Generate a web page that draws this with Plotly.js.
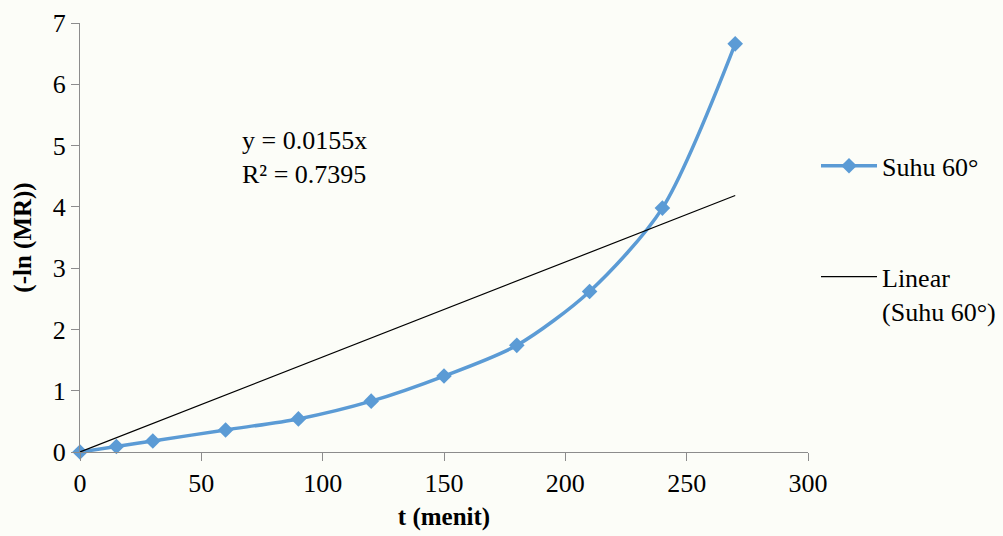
<!DOCTYPE html>
<html><head><meta charset="utf-8">
<script src="https://cdn.plot.ly/plotly-3.0.1.min.js"></script>
<style>html,body{margin:0;padding:0;background:#fcfdf8;}</style>
</head><body><div id="chart" style="width:1003px;height:536px;"></div>
<script>
const timeMin = [0, 15, 30, 60, 90, 120, 150, 180, 210, 240, 270];
const lnMR = [0, 0.09, 0.18, 0.36, 0.54, 0.83, 1.24, 1.74, 2.62, 3.98, 6.66];
const trendX = [0, 270];
const trendY = [0, 4.185];
const seriesName = 'Suhu 60°';
const trendName = 'Linear<br>(Suhu 60°)';
const eqText = 'y = 0.0155x<br>R² = 0.7395';

const font = 'Liberation Serif';
const data = [
  {x: timeMin, y: lnMR, type: 'scatter', mode: 'lines+markers', name: seriesName,
   line: {color: '#5b9bd5', width: 3.5, shape: 'spline', smoothing: 0.8},
   marker: {symbol: 'diamond', size: 12, color: '#5b9bd5'}, legend: 'legend',
   cliponaxis: false, showlegend: true},
  {x: trendX, y: trendY, type: 'scatter', mode: 'lines', name: trendName,
   line: {color: '#000000', width: 1.2}, legend: 'legend2', showlegend: true}
];
const layout = {
  width: 1003, height: 536, showlegend: true,
  paper_bgcolor: '#fcfdf8', plot_bgcolor: 'rgba(0,0,0,0)',
  margin: {l: 80, r: 195, t: 23, b: 84, autoexpand: false},
  font: {family: font, size: 26, color: '#000'},
  xaxis: {range: [0, 300], tickvals: [0, 50, 100, 150, 200, 250, 300],
    showgrid: false, zeroline: false, showline: true, linecolor: '#8c8c8c', linewidth: 1,
    ticks: 'outside', ticklen: 8, tickcolor: '#8c8c8c',
    tickfont: {family: font, size: 26},
    title: {text: '<b>t (menit)</b>', font: {family: font, size: 25}, standoff: 10}},
  yaxis: {range: [0, 7], tickvals: [0, 1, 2, 3, 4, 5, 6, 7],
    showgrid: false, zeroline: false, showline: true, linecolor: '#8c8c8c', linewidth: 1,
    ticks: 'outside', ticklen: 8, tickcolor: '#8c8c8c',
    tickfont: {family: font, size: 26},
    title: {text: '<b>(-ln (MR))</b>', font: {family: font, size: 25}, standoff: 14}},
  legend: {x: 1.011, xanchor: 'left', y: 0.667, yanchor: 'middle', bgcolor: 'rgba(0,0,0,0)',
    font: {family: font, size: 26}, itemwidth: 56},
  legend2: {x: 1.011, xanchor: 'left', y: 0.369, yanchor: 'middle', bgcolor: 'rgba(0,0,0,0)',
    font: {family: font, size: 26}, itemwidth: 56, valign: 'top'},
  annotations: [{x: 66, y: 5.35, xref: 'x', yref: 'y', xanchor: 'left', yanchor: 'top',
    text: eqText, showarrow: false, align: 'left', font: {family: font, size: 26}}]
};
Plotly.newPlot('chart', data, layout, {displayModeBar: false});
</script></body></html>
